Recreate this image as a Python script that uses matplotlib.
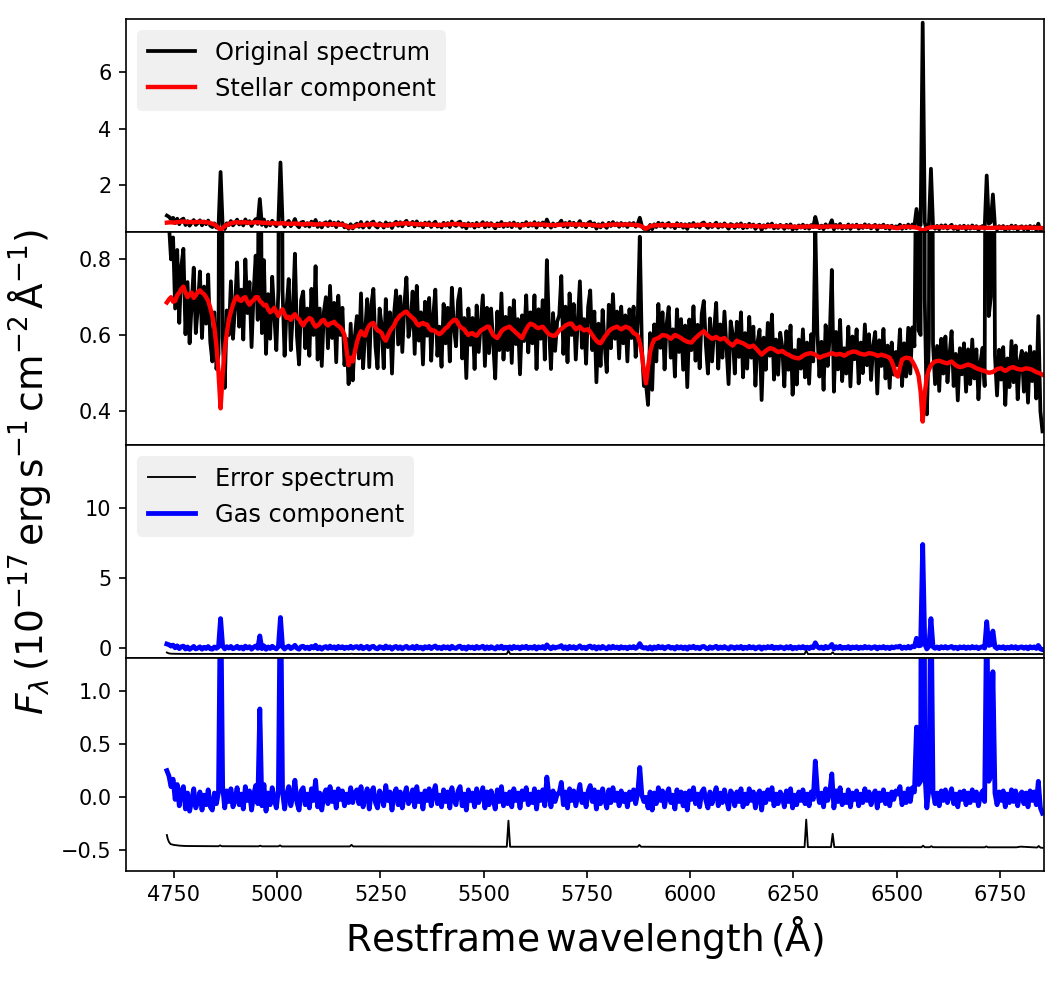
import numpy as np
import matplotlib
matplotlib.use("Agg")
import matplotlib.pyplot as plt

# Wavelength sampling (restframe, Angstrom), 5 A steps from 4733 to 6853
wave = np.arange(4733, 6854, 5)

# Stellar continuum fit (one row = 50 A)
stellar = np.array([
    0.686, 0.694, 0.700, 0.688, 0.690, 0.705, 0.712, 0.722, 0.728, 0.712,
    0.700, 0.708, 0.712, 0.698, 0.705, 0.714, 0.718, 0.712, 0.708, 0.700,
    0.690, 0.672, 0.650, 0.620, 0.570, 0.500, 0.406, 0.495, 0.560, 0.605,
    0.640, 0.662, 0.680, 0.695, 0.702, 0.692, 0.690, 0.698, 0.700, 0.688,
    0.680, 0.688, 0.692, 0.700, 0.700, 0.690, 0.685, 0.678, 0.680, 0.668,
    0.660, 0.664, 0.672, 0.660, 0.650, 0.662, 0.668, 0.655, 0.645, 0.648,
    0.640, 0.650, 0.655, 0.646, 0.642, 0.632, 0.625, 0.635, 0.640, 0.645,
    0.642, 0.630, 0.622, 0.625, 0.630, 0.638, 0.640, 0.630, 0.625, 0.630,
    0.632, 0.635, 0.628, 0.624, 0.620, 0.612, 0.600, 0.560, 0.520, 0.540,
    0.530, 0.555, 0.580, 0.598, 0.610, 0.602, 0.598, 0.615, 0.625, 0.630,
    0.632, 0.620, 0.612, 0.610, 0.605, 0.592, 0.585, 0.598, 0.610, 0.618,
    0.625, 0.638, 0.645, 0.652, 0.655, 0.660, 0.662, 0.655, 0.650, 0.645,
    0.640, 0.630, 0.625, 0.630, 0.632, 0.628, 0.628, 0.618, 0.612, 0.612,
    0.610, 0.605, 0.602, 0.606, 0.612, 0.618, 0.622, 0.630, 0.635, 0.640,
    0.640, 0.630, 0.622, 0.618, 0.615, 0.606, 0.600, 0.604, 0.605, 0.600,
    0.598, 0.605, 0.612, 0.615, 0.618, 0.622, 0.622, 0.610, 0.600, 0.595,
    0.592, 0.600, 0.610, 0.615, 0.618, 0.620, 0.622, 0.616, 0.612, 0.606,
    0.602, 0.596, 0.592, 0.604, 0.615, 0.624, 0.630, 0.628, 0.625, 0.620,
    0.618, 0.620, 0.622, 0.615, 0.608, 0.602, 0.600, 0.598, 0.598, 0.605,
    0.612, 0.616, 0.620, 0.625, 0.628, 0.630, 0.630, 0.622, 0.615, 0.618,
    0.622, 0.616, 0.612, 0.614, 0.615, 0.608, 0.600, 0.592, 0.585, 0.580,
    0.578, 0.586, 0.595, 0.602, 0.610, 0.615, 0.618, 0.620, 0.622, 0.618,
    0.615, 0.618, 0.622, 0.620, 0.618, 0.612, 0.605, 0.602, 0.598, 0.580,
    0.550, 0.505, 0.472, 0.515, 0.555, 0.575, 0.588, 0.590, 0.592, 0.596,
    0.600, 0.599, 0.598, 0.594, 0.590, 0.595, 0.600, 0.598, 0.595, 0.592,
    0.588, 0.585, 0.582, 0.581, 0.580, 0.586, 0.592, 0.597, 0.602, 0.606,
    0.610, 0.604, 0.598, 0.594, 0.590, 0.592, 0.595, 0.591, 0.588, 0.590,
    0.592, 0.586, 0.580, 0.576, 0.572, 0.578, 0.585, 0.582, 0.580, 0.578,
    0.575, 0.571, 0.568, 0.570, 0.572, 0.566, 0.560, 0.554, 0.548, 0.553,
    0.558, 0.562, 0.565, 0.564, 0.562, 0.558, 0.555, 0.556, 0.558, 0.554,
    0.550, 0.548, 0.545, 0.542, 0.540, 0.539, 0.538, 0.541, 0.545, 0.548,
    0.550, 0.551, 0.552, 0.550, 0.548, 0.544, 0.540, 0.542, 0.545, 0.546,
    0.548, 0.550, 0.552, 0.550, 0.548, 0.549, 0.550, 0.548, 0.545, 0.548,
    0.552, 0.554, 0.556, 0.556, 0.555, 0.552, 0.550, 0.549, 0.548, 0.550,
    0.552, 0.551, 0.550, 0.548, 0.545, 0.546, 0.548, 0.546, 0.545, 0.542,
    0.540, 0.530, 0.515, 0.495, 0.490, 0.515, 0.535, 0.538, 0.540, 0.539,
    0.538, 0.530, 0.520, 0.508, 0.492, 0.450, 0.371, 0.445, 0.490, 0.508,
    0.520, 0.526, 0.530, 0.531, 0.532, 0.530, 0.528, 0.526, 0.525, 0.528,
    0.530, 0.525, 0.520, 0.517, 0.515, 0.516, 0.518, 0.520, 0.522, 0.520,
    0.518, 0.515, 0.512, 0.510, 0.508, 0.506, 0.505, 0.502, 0.500, 0.501,
    0.502, 0.506, 0.510, 0.511, 0.512, 0.508, 0.505, 0.508, 0.512, 0.514,
    0.515, 0.512, 0.510, 0.509, 0.508, 0.510, 0.512, 0.511, 0.510, 0.508,
    0.505, 0.502, 0.500, 0.498, 0.495,
])

# Gas component (original minus stellar)
gas = np.array([
    0.25, 0.20, 0.10, 0.17, -0.02, 0.12, -0.08, 0.06, 0.10, -0.11,
    0.04, -0.13, -0.03, 0.08, -0.10, -0.04, 0.05, -0.12, 0.02, -0.07,
    0.07, -0.09, -0.12, 0.04, -0.06, 0.05, 2.07, 0.10, -0.10, 0.06,
    -0.04, 0.08, -0.09, -0.02, 0.09, -0.07, 0.03, -0.11, 0.10, -0.03,
    0.06, -0.12, 0.02, 0.11, -0.06, 0.83, -0.08, 0.12, -0.13, 0.04,
    -0.07, 0.09, -0.02, -0.10, 0.07, 2.15, 0.05, -0.11, 0.03, 0.10,
    -0.08, 0.01, 0.16, -0.05, -0.12, 0.06, 0.09, -0.07, 0.03, -0.10,
    0.08, -0.03, 0.16, -0.09, 0.04, -0.12, 0.02, 0.07, -0.06, 0.10,
    -0.04, 0.05, -0.10, 0.08, -0.02, 0.06, -0.08, 0.03, -0.05, 0.09,
    -0.05, 0.04, 0.07, -0.06, 0.10, -0.09, 0.01, 0.08, -0.11, 0.05,
    0.09, -0.05, -0.10, 0.06, 0.02, -0.08, 0.11, -0.03, 0.05, -0.12,
    0.03, 0.08, -0.07, 0.05, -0.10, 0.02, 0.09, -0.06, -0.02, 0.07,
    -0.09, 0.10, -0.04, 0.03, -0.11, 0.06, -0.03, 0.08, -0.08, 0.04,
    0.11, -0.06, 0.02, -0.09, 0.07, -0.04, 0.05, -0.10, 0.09, -0.02,
    -0.07, 0.06, 0.10, -0.08, 0.03, -0.12, 0.07, -0.03, 0.04, -0.09,
    0.08, -0.05, 0.02, 0.09, -0.10, 0.05, -0.07, 0.06, -0.02, -0.11,
    0.07, -0.04, 0.10, -0.08, 0.03, -0.06, 0.05, -0.09, 0.08, -0.03,
    0.04, -0.10, 0.06, -0.02, 0.09, -0.07, 0.03, -0.05, 0.08, -0.11,
    0.05, -0.03, 0.07, -0.08, 0.19, 0.02, -0.09, 0.06, -0.04, 0.03,
    0.04, 0.14, -0.07, 0.05, -0.10, 0.08, -0.03, 0.06, -0.08, 0.02,
    0.12, -0.05, 0.03, -0.09, 0.06, 0.11, -0.04, 0.07, -0.11, 0.05,
    -0.06, 0.08, -0.02, -0.10, 0.07, -0.05, 0.09, -0.03, 0.04, -0.08,
    0.06, -0.04, 0.03, -0.09, 0.05, -0.02, 0.07, -0.06, 0.04, 0.28,
    0.02, -0.04, 0.00, -0.10, 0.05, -0.12, 0.04, -0.06, 0.09, -0.03,
    0.06, -0.09, 0.03, 0.08, -0.05, 0.02, -0.11, 0.07, -0.04, 0.05,
    -0.08, 0.04, -0.12, 0.06, -0.02, 0.09, -0.06, 0.03, -0.09, 0.05,
    0.08, -0.03, -0.10, 0.05, -0.06, 0.02, 0.09, -0.08, 0.04, -0.05,
    0.07, -0.02, -0.11, 0.06, 0.03, -0.08, 0.05, -0.04, 0.08, -0.09,
    0.03, -0.06, 0.08, -0.03, 0.05, -0.10, 0.02, 0.06, -0.12, 0.04,
    -0.05, 0.07, -0.02, 0.09, -0.08, 0.03, -0.06, 0.05, 0.01, -0.09,
    0.06, -0.04, 0.08, -0.10, 0.02, -0.07, 0.05, -0.03, 0.07, -0.06,
    0.03, -0.08, 0.05, -0.02, 0.34, 0.06, -0.05, 0.04, -0.09, 0.08,
    -0.03, 0.05, 0.22, -0.10, 0.06, -0.04, 0.09, -0.07, 0.02, -0.05,
    0.07, -0.09, 0.04, -0.02, 0.06, -0.08, 0.03, -0.05, 0.08, -0.03,
    0.05, -0.07, 0.02, 0.06, -0.10, 0.04, -0.03, 0.07, -0.06, 0.03,
    -0.08, 0.05, -0.02, 0.06, 0.03, 0.10, -0.07, 0.04, -0.05, 0.08,
    -0.04, 0.09, 0.05, 0.66, 0.12, 0.15, 7.38, 0.25, -0.10, 0.08,
    2.07, 0.05, -0.06, 0.04, -0.08, 0.06, -0.03, 0.07, -0.05, 0.02,
    0.08, -0.06, 0.03, -0.09, 0.05, -0.02, 0.06, -0.07, 0.04, -0.05,
    0.07, -0.03, 0.05, -0.08, 0.02, 0.06, -0.04, 1.85, 0.15, 0.20,
    1.18, 0.04, -0.07, 0.05, -0.03, 0.06, -0.09, 0.03, -0.05, 0.07,
    -0.04, 0.06, -0.08, 0.02, 0.05, -0.06, 0.04, -0.09, 0.06, -0.03,
    0.05, -0.07, 0.15, -0.10, -0.15,
])

# Observed spectrum
original = stellar + gas

# Error spectrum (shifted)
err_wave = [4733, 4735, 4738, 4742, 4750, 4765, 4780, 4858, 4862, 4866,
            4955, 4959, 4963, 5003, 5007, 5011, 5176, 5180, 5184, 5300,
            5450, 5556, 5560, 5564, 5873, 5877, 5881, 5950, 6100, 6277,
            6281, 6285, 6341, 6345, 6349, 6450, 6560, 6564, 6568, 6580,
            6584, 6588, 6713, 6717, 6721, 6790, 6800, 6840, 6844, 6848,
            6853]
err_flux = [-0.355, -0.39, -0.42, -0.44, -0.448, -0.455, -0.458, -0.46, -0.452, -0.46,
            -0.461, -0.455, -0.461, -0.461, -0.452, -0.462, -0.462, -0.447, -0.462, -0.463,
            -0.464, -0.465, -0.22, -0.465, -0.465, -0.448, -0.465, -0.466, -0.467, -0.468,
            -0.21, -0.468, -0.468, -0.343, -0.468, -0.468, -0.469, -0.455, -0.469, -0.469,
            -0.46, -0.469, -0.47, -0.462, -0.47, -0.47, -0.464, -0.472, -0.458, -0.473,
            -0.475]

xticks = [4750, 5000, 5250, 5500, 5750, 6000, 6250, 6500, 6750]

fig, axes = plt.subplots(4, 1, figsize=(7, 6.6), dpi=150, sharex=True)
fig.subplots_adjust(left=0.12, right=0.994, top=0.9805, bottom=0.1205, hspace=0)
ax1, ax2, ax3, ax4 = axes

leg_kw = dict(loc="upper left", fontsize=11.5, facecolor="#f0f0f0",
              edgecolor="#f0f0f0", framealpha=1)

# Panel 1 and 2: original + stellar (full range and zoom)
for ax in (ax1, ax2):
    ax.plot(wave, original, color="k", lw=1.8, label="Original spectrum")
    ax.plot(wave, stellar, color="r", lw=2.1, label="Stellar component")
ax1.set_ylim(0.35, 7.87)
ax1.set_yticks([2, 4, 6])
ax2.set_ylim(0.309, 0.872)
ax2.set_yticks([0.4, 0.6, 0.8])
ax1.legend(**leg_kw)

# Panel 3 and 4: error + gas (full range and zoom)
for ax in (ax3, ax4):
    ax.plot(err_wave, err_flux, color="k", lw=0.9, label="Error spectrum")
    ax.plot(wave, gas, color="b", lw=2.3, label="Gas component")
ax3.set_ylim(-0.74, 14.5)
ax3.set_yticks([0, 5, 10])
ax4.set_ylim(-0.69, 1.31)
ax4.set_yticks([-0.5, 0.0, 0.5, 1.0])
ax3.legend(**leg_kw)

for ax in (ax1, ax2, ax3):
    ax.tick_params(axis="x", bottom=False, labelbottom=False)

ax4.set_xlim(4634, 6856)
ax4.set_xticks(xticks)
ax4.set_xlabel(r"$\mathrm{Restframe\,wavelength\,(\AA)}$", fontsize=18)

fig.text(0.028, 0.523,
         r"$F_\lambda\,(10^{-17}\,\mathrm{erg\,s^{-1}\,cm^{-2}\,\AA^{-1}})$",
         rotation=90, fontsize=18, ha="center", va="center")

fig.savefig("out.png", dpi=150)
plt.close(fig)
